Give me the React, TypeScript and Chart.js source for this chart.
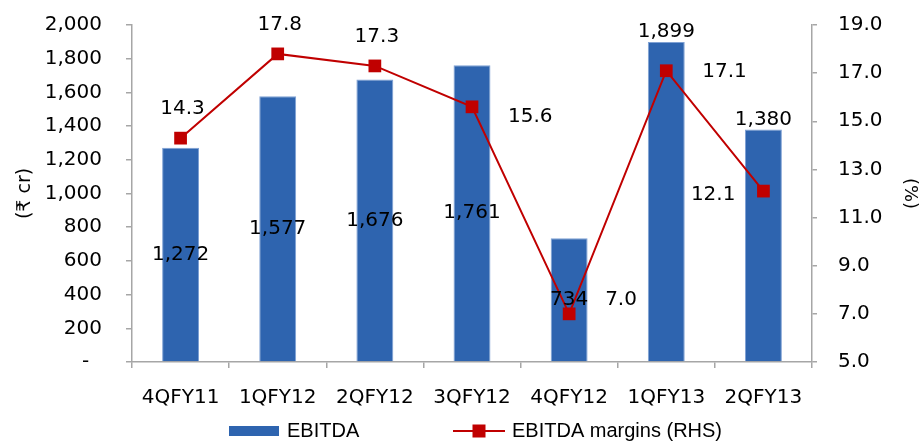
import React, { useEffect, useRef } from 'react';
import { Chart, registerables } from 'chart.js';

Chart.register(...registerables);

// ---- data ----
const categories = ['4QFY11', '1QFY12', '2QFY12', '3QFY12', '4QFY12', '1QFY13', '2QFY13'];
const ebitda = [1272, 1577, 1676, 1761, 734, 1899, 1380];
const margins = [14.3, 17.8, 17.3, 15.6, 7.0, 17.1, 12.1];
const leftTickValues = [0, 200, 400, 600, 800, 1000, 1200, 1400, 1600, 1800, 2000];
const rightTickValues = [5, 7, 9, 11, 13, 15, 17, 19];
const barLabel = 'EBITDA';
const lineLabel = 'EBITDA margins (RHS)';
const leftTitle = '(₹ cr)';
const rightTitle = '(%)';

// ---- label placement (layout, not data) ----
const barLabelAnchor = ['center', 'center', 'center', 'center', 'center', 'end', 'end'];
const lineLabelAnchor = ['above', 'above', 'above', 'right', 'right', 'right', 'left'];
const lineLabelNudgeY = [0, 0, 0, 10, -14, 1, 4];

const W = 919;
const H = 441;
const FONT = "'DejaVu Sans', 'Noto Sans', sans-serif";
const LEGEND_FONT = "'Liberation Sans', Arial, sans-serif";
const BAR = '#2E64AF';
const RED = '#C00000';
const AXIS = '#A6A6A6';
const FS = 20;

const fmtLeft = (v: number) => (v === 0 ? '-  ' : v.toLocaleString('en-US'));
const fmtRight = (v: number) => v.toFixed(1);

const labelsPlugin = {
  id: 'customLabels',
  afterDatasetsDraw(chart: any) {
    const ctx = chart.ctx;
    ctx.save();
    ctx.font = `${FS}px ${FONT}`;
    ctx.fillStyle = '#000';
    ctx.textBaseline = 'middle';
    const barMeta = chart.getDatasetMeta(0);
    barMeta.data.forEach((el: any, i: number) => {
      const txt = ebitda[i].toLocaleString('en-US');
      ctx.textAlign = 'center';
      const y = barLabelAnchor[i] === 'center' ? (el.y + el.base) / 2 : el.y - 10;
      ctx.fillText(txt, el.x, y);
    });
    const lineMeta = chart.getDatasetMeta(1);
    lineMeta.data.forEach((el: any, i: number) => {
      const txt = margins[i].toFixed(1);
      const a = lineLabelAnchor[i];
      const ny = lineLabelNudgeY[i];
      if (a === 'above') {
        ctx.textAlign = 'center';
        ctx.fillText(txt, el.x + 2, el.y - 29 + ny);
      } else if (a === 'right') {
        ctx.textAlign = 'left';
        ctx.fillText(txt, el.x + 36, el.y + ny);
      } else {
        ctx.textAlign = 'right';
        ctx.fillText(txt, el.x - 28, el.y + ny);
      }
    });
    ctx.restore();
  },
};

const legendPlugin = {
  id: 'customLegend',
  afterDraw(chart: any) {
    const ctx = chart.ctx;
    ctx.save();
    const cy = 431;
    ctx.fillStyle = BAR;
    ctx.fillRect(229, cy - 5, 50, 10);
    ctx.font = `20px ${LEGEND_FONT}`;
    ctx.fillStyle = '#000';
    ctx.textBaseline = 'middle';
    ctx.textAlign = 'left';
    ctx.fillText(barLabel, 287, cy);
    ctx.strokeStyle = RED;
    ctx.lineWidth = 2;
    ctx.beginPath();
    ctx.moveTo(453, cy);
    ctx.lineTo(505, cy);
    ctx.stroke();
    ctx.fillStyle = RED;
    ctx.fillRect(479 - 6.5, cy - 6.5, 13, 13);
    ctx.fillStyle = '#000';
    ctx.fillText(lineLabel, 512, cy);
    ctx.restore();
  },
};

export default function App() {
  const ref = useRef<HTMLCanvasElement>(null);
  useEffect(() => {
    document.body.style.margin = '0';
    const canvas = ref.current;
    if (!canvas) return;
    const chart = new Chart(canvas, {
      type: 'bar',
      data: {
        labels: categories,
        datasets: [
          {
            type: 'bar',
            label: barLabel,
            data: ebitda,
            yAxisID: 'y',
            backgroundColor: BAR,
            borderColor: '#7FA1D4',
            borderWidth: 1,
            categoryPercentage: 1,
            barPercentage: 0.38,
            order: 2,
          },
          {
            type: 'line',
            label: lineLabel,
            data: margins,
            yAxisID: 'y1',
            borderColor: RED,
            backgroundColor: RED,
            borderWidth: 2,
            pointStyle: 'rect',
            pointRadius: 9,
            pointBackgroundColor: RED,
            pointBorderColor: RED,
            pointBorderWidth: 0,
            tension: 0,
            order: 1,
          } as any,
        ],
      },
      options: {
        responsive: false,
        animation: false,
        layout: { padding: { top: 25, left: 0, right: 0, bottom: 0 } },
        plugins: {
          legend: { display: false },
          tooltip: { enabled: false },
        },
        scales: {
          x: {
            offset: true,
            grid: {
              display: true,
              offset: true,
              drawOnChartArea: false,
              drawTicks: true,
              tickLength: 6,
              color: AXIS,
              lineWidth: 1.5,
            },
            border: { display: true, color: AXIS, width: 1.5 },
            ticks: {
              font: { family: FONT, size: FS },
              color: '#000',
              padding: 18,
              maxRotation: 0,
              autoSkip: false,
            },
            afterFit: (s: any) => {
              s.height = H - 25 - 337;
              s.paddingLeft = 0;
              s.paddingRight = 0;
            },
          },
          y: {
            position: 'left',
            min: 0,
            max: 2000,
            afterBuildTicks: (s: any) => {
              s.ticks = leftTickValues.map((v) => ({ value: v }));
            },
            grid: {
              drawOnChartArea: false,
              drawTicks: true,
              tickLength: 6,
              color: AXIS,
              lineWidth: 1.5,
            },
            border: { display: true, color: AXIS, width: 1.5 },
            ticks: {
              font: { family: FONT, size: FS },
              color: '#000',
              padding: 24,
              callback: (v: any) => fmtLeft(Number(v)),
            },
            title: {
              display: true,
              text: leftTitle,
              font: { family: FONT, size: 19 },
              color: '#000',
              padding: { top: 14, bottom: 0 },
            },
            afterFit: (s: any) => {
              s.width = 132;
              s.paddingTop = 0;
              s.paddingBottom = 0;
            },
          },
          y1: {
            position: 'right',
            min: 5,
            max: 19,
            afterBuildTicks: (s: any) => {
              s.ticks = rightTickValues.map((v) => ({ value: v }));
            },
            grid: {
              drawOnChartArea: false,
              drawTicks: true,
              tickLength: 5,
              color: AXIS,
              lineWidth: 1.5,
            },
            border: { display: true, color: AXIS, width: 1.5 },
            ticks: {
              font: { family: FONT, size: FS },
              color: '#000',
              padding: 21,
              callback: (v: any) => fmtRight(Number(v)),
            },
            title: {
              display: true,
              text: rightTitle,
              font: { family: FONT, size: 18, lineHeight: 1 },
              color: '#000',
              padding: { top: 0, bottom: 0 },
            },
            afterFit: (s: any) => {
              s.width = W - 812;
              s.paddingTop = 0;
              s.paddingBottom = 0;
            },
          },
        },
      },
      plugins: [labelsPlugin, legendPlugin],
    });
    return () => chart.destroy();
  }, []);
  return (
    <div style={{ width: W, height: H }}>
      <canvas ref={ref} width={W} height={H} style={{ display: 'block' }} />
    </div>
  );
}
